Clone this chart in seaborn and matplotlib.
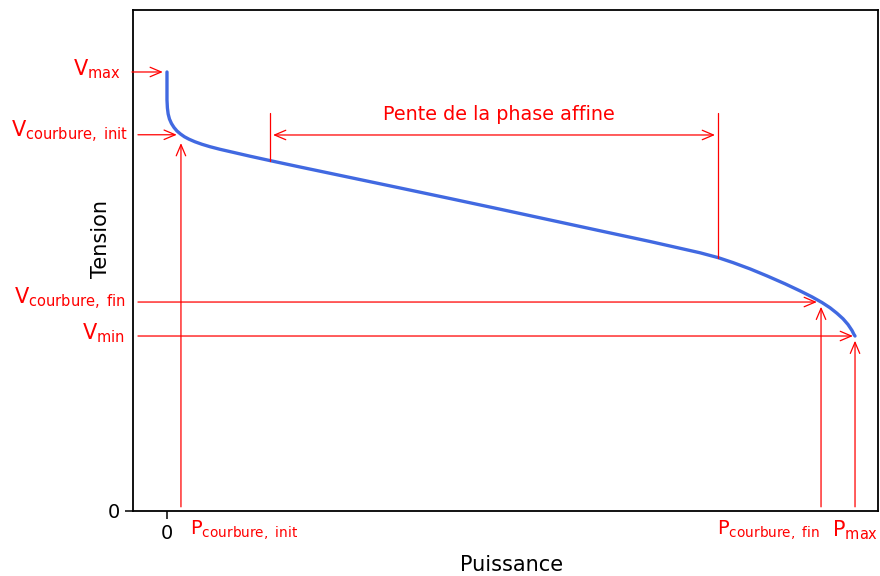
import matplotlib
matplotlib.use("Agg")
import matplotlib.pyplot as plt
import seaborn as sns
import pandas as pd

# ---- data (normalised units: P / Pmax, V / Vmax) ----
puissance = [0.0, 0.0, 0.0006, 0.0017, 0.0036, 0.0065, 0.0102, 0.0145, 0.0196,
             0.0254, 0.0320, 0.0407, 0.0509, 0.0625, 0.0770, 0.0959, 0.1206,
             0.1497, 0.1933, 0.2660, 0.3387, 0.4113, 0.4840, 0.5567, 0.6294,
             0.7020, 0.7747, 0.8009, 0.8227, 0.8474, 0.8721, 0.8983, 0.9201,
             0.9375, 0.9520, 0.9637, 0.9738, 0.9826, 0.9898, 0.9956, 0.9985, 1.0]
tension = [1.0, 0.9362, 0.9180, 0.9043, 0.8929, 0.8827, 0.8736, 0.8656, 0.8588,
           0.8524, 0.8469, 0.8410, 0.8353, 0.8298, 0.8239, 0.8171, 0.8082,
           0.7982, 0.7836, 0.7597, 0.7358, 0.7118, 0.6875, 0.6629, 0.6383,
           0.6139, 0.5882, 0.5772, 0.5658, 0.5515, 0.5355, 0.5175, 0.5014,
           0.4877, 0.4749, 0.4629, 0.4503, 0.4378, 0.4248, 0.4112, 0.4021, 0.3986]

V_max = 1.0
V_courbure_init = 0.857
V_courbure_fin = 0.476
V_min = 0.3986
P_courbure_init = 0.0203
P_courbure_fin = 0.9506
P_max = 1.0
P_pente_debut = 0.1497
P_pente_fin = 0.8009
V_pente_debut = 0.7982
V_pente_fin = 0.5772
V_pente_haut = 0.9066
V_pente_fleche = 0.8565

v_labels = [r"$\mathregular{V_{max}}$", r"$\mathregular{V_{courbure,\ init}}$",
            r"$\mathregular{V_{courbure,\ fin}}$", r"$\mathregular{V_{min}}$"]
p_labels = [r"$\mathregular{P_{courbure,\ init}}$", r"$\mathregular{P_{courbure,\ fin}}$",
            r"$\mathregular{P_{max}}$"]

df = pd.DataFrame({"Puissance": puissance, "Tension": tension})

sns.set_style("ticks")
plt.rcParams["font.family"] = ["DejaVu Sans"]
plt.rcParams["text.color"] = "black"
plt.rcParams["axes.labelcolor"] = "black"
plt.rcParams["xtick.color"] = "black"
plt.rcParams["ytick.color"] = "black"

fig = plt.figure(figsize=(8.8, 5.76), dpi=100)
ax = fig.add_axes([133 / 880, 1 - 511 / 576, (878 - 133) / 880, (511 - 10) / 576])

sns.lineplot(data=df, x="Puissance", y="Tension", sort=False, estimator=None,
             color="royalblue", linewidth=2.4, ax=ax)
ax.lines[0].set_solid_joinstyle("round")

ax.set_xlim(-0.0494, 1.0334)
ax.set_ylim(0, 1.1412)
ax.set_xticks([0])
ax.set_yticks([0])
ax.set_xticklabels(["0"], fontsize=14)
ax.set_yticklabels(["0"], fontsize=14)
ax.tick_params(length=6, width=1.1, color="black", labelcolor="black")
for s in ax.spines.values():
    s.set_visible(True)
    s.set_linewidth(1.3)
    s.set_color("black")

ax.set_xlabel("Puissance", fontsize=15, color="black")
ax.set_ylabel("Tension", fontsize=15, color="black")
ax.yaxis.set_label_coords(-0.029, 0.543)
ax.xaxis.set_label_coords(0.508, -0.088)

red = "red"
astyle = "->,head_length=0.4,head_width=0.17"
arrow_kw = dict(color=red, lw=0.9, mutation_scale=20)

# horizontal arrows (tension levels): (target P, V, shrink, arrow start, text x)
v_arrows = [(0.0, V_max, 3, -0.0509, -0.0669),
            (P_courbure_init, V_courbure_init, 3, -0.0422, -0.0566),
            (P_courbure_fin, V_courbure_fin, 3, -0.0422, -0.0596),
            (P_max, V_min, 1.5, -0.0422, -0.0610)]
for (px, pv, shr, xs, xt), lab in zip(v_arrows, v_labels):
    ax.annotate("", xy=(px, pv), xytext=(xs, pv),
                arrowprops=dict(arrowstyle=astyle, shrinkA=0, shrinkB=shr, **arrow_kw),
                annotation_clip=False)
    ax.text(xt, pv + 0.006, lab, color=red, fontsize=15, ha="right", va="center")

# vertical arrows (power levels)
p_arrows = [(P_courbure_init, V_courbure_init, 6), (P_courbure_fin, V_courbure_fin, 3.4),
            (P_max, V_min, 3.4)]
for px, pv, shr in p_arrows:
    ax.annotate("", xy=(px, pv), xytext=(px, 0.0),
                arrowprops=dict(arrowstyle=astyle, shrinkA=3, shrinkB=shr, **arrow_kw))

ax.text(P_courbure_init + 0.013, -0.043, p_labels[0], color=red, fontsize=14,
        ha="left", va="center", clip_on=False)
ax.text(P_courbure_fin - 0.001, -0.043, p_labels[1], color=red, fontsize=14,
        ha="right", va="center", clip_on=False)
ax.text(P_max, -0.043, p_labels[2], color=red, fontsize=15,
        ha="center", va="center", clip_on=False)

# linear phase slope
ax.plot([P_pente_debut, P_pente_debut], [V_pente_debut, V_pente_haut], color=red, lw=0.9)
ax.plot([P_pente_fin, P_pente_fin], [V_pente_fin, V_pente_haut], color=red, lw=0.9)
ax.annotate("", xy=(P_pente_debut, V_pente_fleche), xytext=(P_pente_fin, V_pente_fleche),
            arrowprops=dict(arrowstyle="<->,head_length=0.4,head_width=0.17",
                            shrinkA=2.2, shrinkB=2.2, **arrow_kw))
ax.text((P_pente_debut + P_pente_fin) / 2 + 0.007, 0.904, "Pente de la phase affine",
        color=red, fontsize=13.8, ha="center", va="center")

fig.savefig("out.png", dpi=100)
